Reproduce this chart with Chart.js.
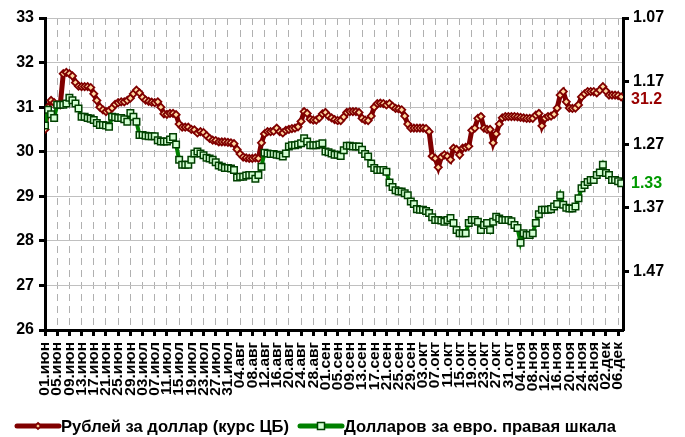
<!DOCTYPE html>
<html><head><meta charset="utf-8">
<script src="https://cdn.jsdelivr.net/npm/chart.js@4.4.0/dist/chart.umd.min.js"></script>
<style>html,body{margin:0;padding:0;background:#fff;}</style>
</head><body>
<canvas id="c" width="685" height="437"></canvas>
<script>
const tickLabels = ['01.июн','05.июн','09.июн','13.июн','17.июн','21.июн','25.июн','29.июн','03.июл','07.июл','11.июл','15.июл','19.июл','23.июл','27.июл','31.июл','04.авг','08.авг','12.авг','16.авг','20.авг','24.авг','28.авг','01.сен','05.сен','09.сен','13.сен','17.сен','21.сен','25.сен','29.сен','03.окт','07.окт','11.окт','15.окт','19.окт','23.окт','27.окт','31.окт','04.ноя','08.ноя','12.ноя','16.ноя','20.ноя','24.ноя','28.ноя','02.дек','06.дек'];
const seriesNames = ['Рублей за доллар (курс ЦБ)', 'Долларов за евро. правая шкала'];
const rubPerUsd = [
30.5,31.0,31.15,31.1,31.05,31.05,31.75,31.78,31.75,31.7,
31.55,31.47,31.46,31.46,31.46,31.44,31.3,31.15,31.0,30.94,
30.9,30.92,30.98,31.06,31.1,31.12,31.12,31.15,31.2,31.3,
31.38,31.32,31.22,31.16,31.13,31.11,31.1,31.12,31.0,30.85,
30.84,30.86,30.86,30.83,30.62,30.55,30.55,30.55,30.5,30.49,
30.42,30.45,30.43,30.36,30.3,30.26,30.25,30.22,30.22,30.22,
30.21,30.2,30.18,30.05,29.95,29.88,29.86,29.85,29.85,29.86,
29.85,30.2,30.4,30.45,30.45,30.46,30.53,30.45,30.42,30.48,
30.5,30.52,30.53,30.56,30.68,30.9,30.86,30.73,30.71,30.71,
30.76,30.85,30.88,30.8,30.76,30.72,30.7,30.7,30.78,30.88,
30.9,30.9,30.9,30.88,30.75,30.71,30.7,30.8,31.0,31.08,
31.09,31.08,31.05,31.08,31.02,30.97,30.96,30.94,30.8,30.62,
30.53,30.53,30.53,30.53,30.53,30.52,30.45,29.9,29.85,29.65,
29.88,29.93,29.9,29.82,30.08,30.05,29.93,30.08,30.1,30.12,
30.48,30.53,30.75,30.79,30.53,30.5,30.5,30.2,30.4,30.62,
30.76,30.79,30.79,30.79,30.79,30.78,30.77,30.76,30.75,30.75,
30.75,30.82,30.86,30.58,30.75,30.79,30.8,30.84,30.98,31.27,
31.35,31.12,30.98,30.97,30.98,31.05,31.23,31.3,31.35,31.35,
31.35,31.32,31.38,31.46,31.36,31.27,31.27,31.27,31.26,31.23];
const usdPerEur = [
1.24,1.215,1.222,1.228,1.207,1.207,1.207,1.205,1.196,1.2,
1.205,1.213,1.226,1.226,1.228,1.229,1.231,1.236,1.239,1.239,
1.24,1.242,1.226,1.227,1.228,1.228,1.23,1.234,1.22,1.226,
1.234,1.255,1.255,1.256,1.257,1.257,1.257,1.263,1.265,1.265,
1.265,1.262,1.258,1.27,1.294,1.302,1.302,1.302,1.294,1.284,
1.281,1.284,1.287,1.291,1.292,1.294,1.298,1.303,1.305,1.307,
1.307,1.308,1.31,1.322,1.321,1.321,1.319,1.318,1.318,1.324,
1.318,1.305,1.283,1.284,1.285,1.285,1.286,1.287,1.289,1.284,
1.273,1.271,1.271,1.27,1.268,1.26,1.265,1.271,1.271,1.271,
1.27,1.268,1.281,1.282,1.284,1.286,1.286,1.288,1.279,1.272,
1.272,1.273,1.273,1.273,1.278,1.285,1.289,1.3,1.307,1.31,
1.31,1.31,1.313,1.33,1.337,1.342,1.344,1.344,1.347,1.35,
1.36,1.364,1.372,1.373,1.373,1.375,1.378,1.385,1.389,1.389,
1.39,1.392,1.389,1.386,1.394,1.405,1.41,1.41,1.41,1.394,
1.389,1.389,1.392,1.405,1.397,1.394,1.405,1.392,1.384,1.387,
1.389,1.389,1.389,1.391,1.397,1.402,1.425,1.41,1.413,1.413,
1.41,1.394,1.38,1.373,1.373,1.373,1.372,1.368,1.364,1.35,
1.365,1.37,1.371,1.371,1.368,1.355,1.339,1.334,1.329,1.326,
1.326,1.318,1.314,1.302,1.315,1.318,1.326,1.326,1.328,1.331];
const leftTicksRange = [26, 33];
const rightTicks = [1.07, 1.17, 1.27, 1.37, 1.47];
const rightRange = [1.07, 1.563];

const FONT = "'Liberation Sans', Arial, sans-serif";
const RED = '#800000', RED_FILL = '#ffd9a0';
const GREEN = '#008000', GREEN_DARK = '#004000', GREEN_FILL = '#d4ffd4';

const extras = {
  id: 'extras',
  afterDraw(chart) {
    const ctx = chart.ctx;
    ctx.save();
    const ds = chart.data.datasets;
    const lastR = rubPerUsd[rubPerUsd.length - 1];
    const lastG = usdPerEur[usdPerEur.length - 1];
    ctx.font = 'bold 16px ' + FONT;
    ctx.textBaseline = 'middle';
    ctx.textAlign = 'left';
    ctx.fillStyle = '#990000';
    ctx.fillText(lastR.toFixed(1), 631, chart.scales.y.getPixelForValue(lastR) + 3);
    ctx.fillStyle = '#009900';
    ctx.fillText(lastG.toFixed(2), 631, chart.scales.y2.getPixelForValue(lastG));
    const ly = 426;
    ctx.font = 'bold 16.6px ' + FONT;
    const items = [
      {x0: 17, x1: 59, tx: 61, ds: ds[0]},
      {x0: 300, x1: 342, tx: 344, ds: ds[1]}
    ];
    items.forEach(it => {
      ctx.strokeStyle = it.ds.borderColor;
      ctx.lineWidth = 5;
      ctx.lineCap = 'round';
      ctx.beginPath(); ctx.moveTo(it.x0, ly); ctx.lineTo(it.x1, ly); ctx.stroke();
      const cx = (it.x0 + it.x1) / 2;
      ctx.fillStyle = it.ds.pointBackgroundColor;
      ctx.strokeStyle = it.ds.pointBorderColor;
      ctx.lineWidth = it.ds.pointBorderWidth;
      ctx.beginPath();
      if (it.ds.pointStyle === 'rectRot') {
        ctx.moveTo(cx, ly - 3); ctx.lineTo(cx + 3, ly); ctx.lineTo(cx, ly + 3); ctx.lineTo(cx - 3, ly); ctx.closePath();
      } else {
        ctx.rect(cx - 3.5, ly - 3.5, 7, 7);
      }
      ctx.fill(); ctx.stroke();
      ctx.fillStyle = '#000';
      ctx.textAlign = 'left';
      ctx.fillText(it.ds.label, it.tx, ly + 1);
    });
    ctx.restore();
  }
};

new Chart(document.getElementById('c'), {
  type: 'line',
  data: {
    datasets: [
      {
        label: seriesNames[0],
        data: rubPerUsd.map((v, i) => ({x: i, y: v})),
        yAxisID: 'y',
        borderColor: RED, borderWidth: 5,
        pointStyle: 'rectRot', pointRadius: 3.6,
        pointBorderColor: RED, pointBorderWidth: 1.8,
        pointBackgroundColor: RED_FILL,
        tension: 0, order: 1
      },
      {
        label: seriesNames[1],
        data: usdPerEur.map((v, i) => ({x: i, y: v})),
        yAxisID: 'y2',
        borderColor: GREEN, borderWidth: 4,
        pointStyle: 'rect', pointRadius: 4.6,
        pointBorderColor: GREEN_DARK, pointBorderWidth: 1.5,
        pointBackgroundColor: GREEN_FILL,
        tension: 0, order: 0
      }
    ]
  },
  options: {
    responsive: false,
    animation: false,
    devicePixelRatio: 1,
    layout: {padding: {top: 18, left: 0, right: 0, bottom: 0}},
    plugins: {legend: {display: false}, tooltip: {enabled: false}},
    scales: {
      x: {
        type: 'linear', position: 'bottom', min: 0, max: 189.6,
        afterBuildTicks: s => { s.ticks = tickLabels.map((_, k) => ({value: k * 4})); },
        afterFit: s => { s.height = 107; },
        ticks: {
          autoSkip: false, maxRotation: 90, minRotation: 90, padding: 6,
          color: '#000', font: {family: FONT, size: 15.5, weight: 'bold'},
          callback: (v, i) => tickLabels[i]
        },
        grid: {color: '#b0b0b0', lineWidth: 1, tickLength: 6, tickWidth: 3, tickColor: '#000', drawOnChartArea: true},
        border: {display: true, color: '#000', width: 3, dash: [7, 5]}
      },
      y: {
        position: 'left', min: leftTicksRange[0], max: leftTicksRange[1],
        afterFit: s => { s.width = 45; },
        ticks: {stepSize: 1, padding: 5, color: '#000', font: {family: FONT, size: 16, weight: 'bold'}},
        grid: {color: '#c0c0c0', lineWidth: 1, tickLength: 6, tickWidth: 3, tickColor: '#000'},
        border: {color: '#000', width: 3}
      },
      y2: {
        position: 'right', min: rightRange[0], max: rightRange[1], reverse: true,
        afterBuildTicks: s => { s.ticks = rightTicks.map(v => ({value: v})); },
        afterFit: s => { s.width = 62; },
        ticks: {padding: 4, color: '#000', font: {family: FONT, size: 16, weight: 'bold'}, callback: v => v.toFixed(2)},
        grid: {drawOnChartArea: false, tickLength: 6, tickWidth: 3, tickColor: '#000'},
        border: {color: '#000', width: 3}
      }
    }
  },
  plugins: [extras]
});
</script>
</body></html>
